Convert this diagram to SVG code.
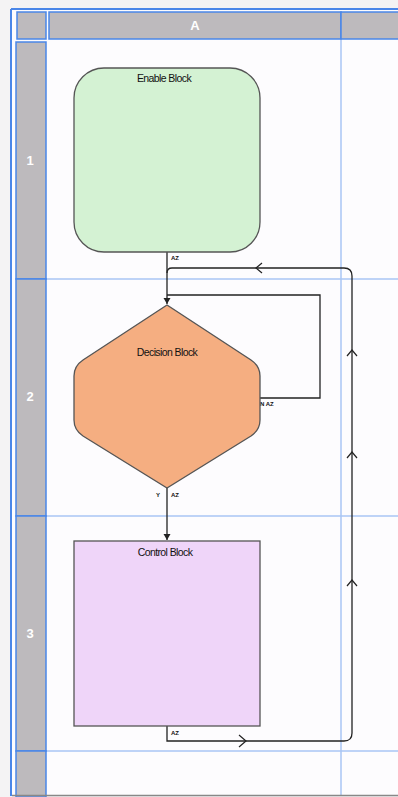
<svg xmlns="http://www.w3.org/2000/svg" width="398" height="797" viewBox="0 0 398 797">
<style>
.hdr{fill:#bdbabd;stroke:#4a86e8;stroke-width:1.5}
.hdrt{font-family:"Liberation Sans",Arial,sans-serif;font-size:13px;font-weight:bold;fill:#ffffff;text-anchor:middle}
.grid{stroke:#a9c6f5;stroke-width:1.5;fill:none}
.node{stroke:#555555;stroke-width:1.3}
.lbl{font-family:"Liberation Sans",Arial,sans-serif;font-size:10.5px;fill:#111;text-anchor:middle;letter-spacing:-0.6px}
.small{font-family:"Liberation Sans",Arial,sans-serif;font-size:6px;font-weight:bold;fill:#111}
.conn{stroke:#222;stroke-width:1.3;fill:none}
.open{stroke:#222;stroke-width:1.2;fill:none}
</style>
<defs>
<marker id="tri" markerWidth="8" markerHeight="8" refX="6" refY="4" orient="auto" markerUnits="userSpaceOnUse">
<path d="M0,0.5 L6,4 L0,7.5 Z" fill="#222"/>
</marker>
</defs>
<rect x="0" y="0" width="398" height="797" fill="#f4f3f4"/>
<rect x="12" y="9" width="386" height="786" fill="#fdfcfe"/>
<g id="grid">
<line class="grid" x1="341" y1="40" x2="341" y2="795"/>
<line class="grid" x1="46" y1="279" x2="398" y2="279"/>
<line class="grid" x1="46" y1="516" x2="398" y2="516"/>
<line class="grid" x1="46" y1="751" x2="398" y2="751"/>
</g>
<g id="headers">
<line x1="11" y1="9" x2="11" y2="796" stroke="#4a86e8" stroke-width="2"/>
<line x1="11" y1="9" x2="398" y2="9" stroke="#4a86e8" stroke-width="2"/>
<rect class="hdr" x="17" y="12" width="29" height="27"/>
<rect class="hdr" x="49" y="12" width="292" height="27"/>
<rect class="hdr" x="341" y="12" width="60" height="27"/>
<text class="hdrt" x="195" y="30">A</text>
<rect class="hdr" x="16" y="42" width="30" height="237"/>
<rect class="hdr" x="16" y="279" width="30" height="237"/>
<rect class="hdr" x="16" y="516" width="30" height="235"/>
<rect class="hdr" x="16" y="751" width="30" height="46"/>
<text class="hdrt" x="30" y="165">1</text>
<text class="hdrt" x="30" y="401">2</text>
<text class="hdrt" x="30" y="638">3</text>
<line x1="12" y1="795.5" x2="398" y2="795.5" stroke="#888" stroke-width="1.5"/>
</g>
<g id="connectors">
<path class="conn" d="M167,252 V304" marker-end="url(#tri)"/>
<path class="conn" d="M260,398 H320 V295 H167"/>
<path class="conn" d="M167,488 V540" marker-end="url(#tri)"/>
<path class="conn" d="M167,726 V741 H344 Q352,741 352,733 V276 Q352,268 344,268 H172 Q167,268 167,273"/>
<path class="open" d="M262,263 L256,268 L262,273"/>
<path class="open" d="M347,356 L352,350 L357,356"/>
<path class="open" d="M347,458 L352,452 L357,458"/>
<path class="open" d="M347,586 L352,580 L357,586"/>
<path class="open" d="M239,735 L246,741 L239,747"/>
<text class="small" x="171" y="260">AZ</text>
<text class="small" x="260" y="406">N AZ</text>
<text class="small" x="156" y="497">Y</text>
<text class="small" x="171" y="497">AZ</text>
<text class="small" x="171" y="735">AZ</text>
</g>
<g id="enable">
<rect class="node" x="74" y="68" width="186" height="184" rx="30" ry="30" fill="#d4f2d3"/>
<text class="lbl" x="164" y="82">Enable Block</text>
</g>
<g id="decision">
<path class="node" d="M167,305 L83,360 Q74,366 74,376 V420 Q74,430 83,436 L167,488 L251,436 Q260,430 260,420 V376 Q260,366 251,360 Z" fill="#f5ae81"/>
<text class="lbl" x="167" y="356">Decision Block</text>
</g>
<g id="control">
<rect class="node" x="74" y="541" width="186" height="185" fill="#efd5f9"/>
<text class="lbl" x="165" y="556">Control Block</text>
</g>
</svg>
